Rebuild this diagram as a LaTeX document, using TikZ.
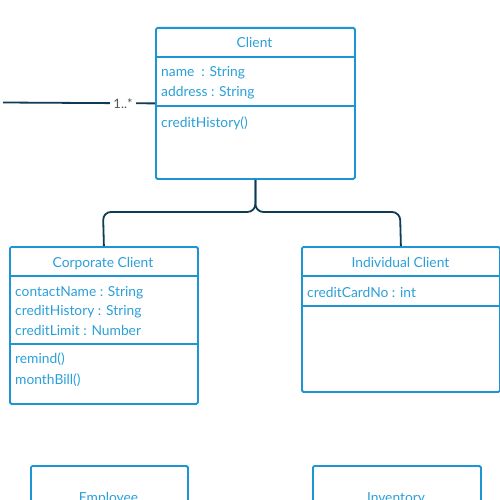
\documentclass[tikz,border=0pt]{standalone}
\usepackage{fontspec}
\setmainfont{Lato}
\definecolor{boxblue}{HTML}{1B95D4}
\definecolor{txtblue}{HTML}{2A9FD8}
\definecolor{navy}{HTML}{0E3B55}
\definecolor{lblgray}{HTML}{555555}
\begin{document}
\begin{tikzpicture}[x=1pt,y=-1pt,
  classbox/.style={draw=boxblue,line width=1.8pt,rounded corners=1.5pt,anchor=north west,inner sep=0pt},
  divider/.style={draw=boxblue,line width=1.8pt},
  ctext/.style={text=txtblue,font=\fontsize{13.8}{15}\selectfont,anchor=base west,inner sep=0pt},
  htext/.style={text=txtblue,font=\fontsize{13.8}{15}\selectfont,anchor=base,inner sep=0pt},
  conn/.style={draw=navy,line width=1.8pt},
  mult/.style={text=lblgray,fill=white,font=\fontsize{13}{15}\selectfont,inner sep=3pt}]
\useasboundingbox (0,0) rectangle (500,500);
\clip (0,0) rectangle (500,500);
% Client
\node[classbox,minimum width=199pt,minimum height=151pt] (client) at (155,27) {};
\draw[divider] (155,57) -- (354,57);
\draw[divider] (155,106) -- (354,106);
\node[htext] (clientT) at (254.5,47.5) {Client};
\node[ctext] (cA1) at (161,77) {name\ \ : String};
\node[ctext] (cA2) at (161,97) {address : String};
\node[ctext] (cM1) at (161,128) {creditHistory()};
% Corporate client
\node[classbox,minimum width=188pt,minimum height=157pt] (corp) at (9,246) {};
\draw[divider] (9,276) -- (197,276);
\draw[divider] (9,344) -- (197,344);
\node[htext] (corpT) at (103,267) {Corporate Client};
\node[ctext] (pA1) at (15,296) {contactName : String};
\node[ctext] (pA2) at (15,315) {creditHistory : String};
\node[ctext] (pA3) at (15,335) {creditLimit : Number};
\node[ctext] (pM1) at (15,363) {remind()};
\node[ctext] (pM2) at (15,384) {monthBill()};
% Individual client
\node[classbox,minimum width=198pt,minimum height=145pt] (indiv) at (301,246) {};
\draw[divider] (301,276) -- (499,276);
\draw[divider] (301,306) -- (499,306);
\node[htext] (indT) at (400.5,267) {Individual Client};
\node[ctext] (iA1) at (307,297) {creditCardNo : int};
% Employee, Inventory (cut off)
\node[classbox,minimum width=157pt,minimum height=80pt] (emp) at (30,465) {};
\node[htext] (empT) at (108.5,502) {Employee};
\node[classbox,minimum width=168pt,minimum height=80pt] (inv) at (312,465) {};
\node[htext] (invT) at (396,502) {Inventory};
% connectors
\draw[conn,rounded corners=8pt] (client.south) |- (103,212) -- (corp.north);
\draw[conn,rounded corners=8pt] (client.south) |- (400,212) -- (indiv.north);
\coordinate (far) at (3,102.5);
\draw[conn] (far) -- (client.west) node[mult,pos=0.79] (m1) {1..*};
\end{tikzpicture}
\end{document}
